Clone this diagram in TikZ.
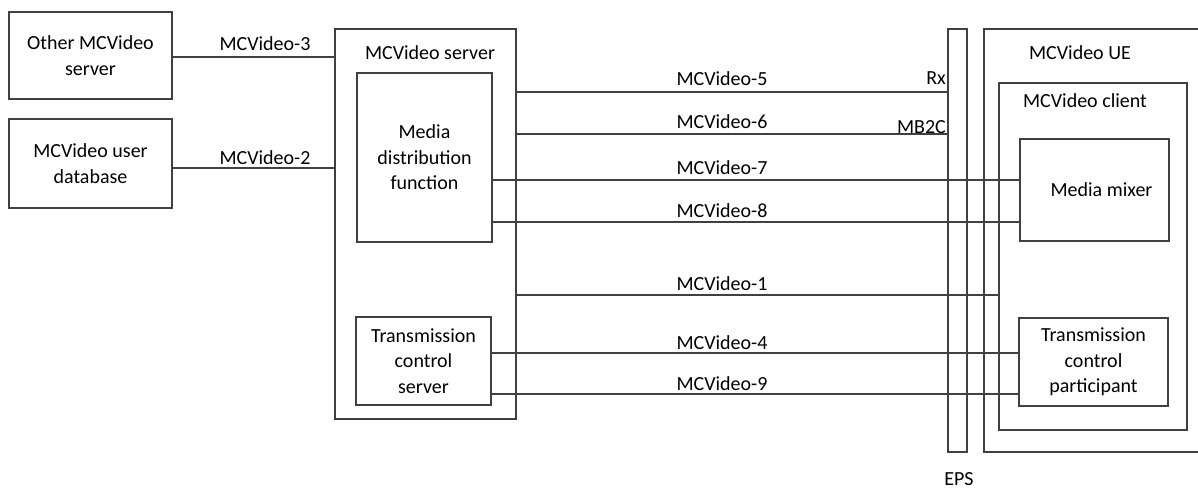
\documentclass[tikz,border=0pt]{standalone}
\usepackage{fontspec}
\setmainfont{Carlito}
\usetikzlibrary{positioning}
\tikzstyle{box} = [rectangle, draw=linegray, line width=1.7pt, inner sep=0pt, align=center]
\tikzstyle{txt} = [inner sep=0pt, align=center]
\tikzstyle{link} = [draw=linegray, line width=1.7pt]
\definecolor{linegray}{rgb}{0.25,0.25,0.25}
\begin{document}
\begin{tikzpicture}[x=1pt, y=-1pt, font=\fontsize{20}{25.5}\selectfont]
        \useasboundingbox (0,0) rectangle (1198,488);
        \node (other) [box, minimum width=163pt, minimum height=87pt] at (90.5,55.5) {Other MCVideo\\server};
        \node (userdb) [box, minimum width=163pt, minimum height=89pt] at (90.5,163.5) {MCVideo user\\database};
        \node (srv) [box, minimum width=181pt, minimum height=390pt] at (425.5,224) {};
        \node (srvlbl) [txt] at (430,53) {MCVideo server};
        \node (mdf) [box, minimum width=135pt, minimum height=169pt] at (424.5,157.5) {Media\\distribution\\function};
        \node (tcs) [box, minimum width=135pt, minimum height=88pt] at (423.5,361) {Transmission\\control\\server};
        \node (eps) [box, minimum width=19pt, minimum height=423pt] at (957.5,240.5) {};
        \node (epslbl) [txt, anchor=base] at (959,485) {EPS};
        \node (ue) [box, minimum width=226pt, minimum height=423pt] at (1097,240.5) {};
        \node (uelbl) [txt] at (1080,53) {MCVideo UE};
        \node (client) [box, minimum width=188pt, minimum height=347pt] at (1093,256.5) {};
        \node (clientlbl) [txt] at (1085,101) {MCVideo client};
        \node (mixer) [box, minimum width=149pt, minimum height=102pt] at (1094.5,190) {\hspace*{14pt}Media mixer};
        \node (tcp) [box, minimum width=149pt, minimum height=88pt] at (1093.5,362) {Transmission\\control\\participant};

        \draw [link] (other.east |- 0,57) -- (srv.west |- 0,57);
        \draw [link] (userdb.east |- 0,168) -- (srv.west |- 0,168);
        \draw [link] (srv.east |- 0,92) -- (eps.west |- 0,92);
        \draw [link] (srv.east |- 0,134) -- (eps.west |- 0,134);
        \draw [link] (mdf.east |- 0,180) -- (mixer.west |- 0,180);
        \draw [link] (mdf.east |- 0,222) -- (mixer.west |- 0,222);
        \draw [link] (srv.east |- 0,295) -- (client.west |- 0,295);
        \draw [link] (tcs.east |- 0,353) -- (tcp.west |- 0,353);
        \draw [link] (tcs.east |- 0,394) -- (tcp.west |- 0,394);

        \node (l3) [txt] at (265,44) {MCVideo-3};
        \node (l2) [txt] at (265,158) {MCVideo-2};
        \node (l5) [txt] at (722,79) {MCVideo-5};
        \node (l6) [txt] at (722,122) {MCVideo-6};
        \node (l7) [txt] at (722,168) {MCVideo-7};
        \node (l8) [txt] at (722,211) {MCVideo-8};
        \node (l1) [txt] at (722,284) {MCVideo-1};
        \node (l4) [txt] at (722,343) {MCVideo-4};
        \node (l9) [txt] at (722,384) {MCVideo-9};
        \node (rx) [txt, anchor=east] at (946,78) {Rx};
        \node (mb2c) [txt, anchor=east] at (946,127) {MB2C};
    \end{tikzpicture}
\end{document}
